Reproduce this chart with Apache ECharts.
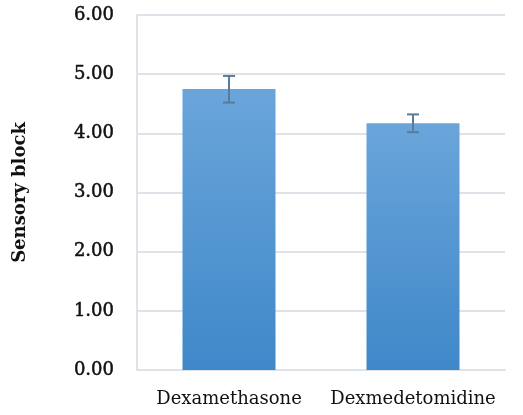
<!DOCTYPE html>
<html><head><meta charset="utf-8">
<script src="https://cdn.jsdelivr.net/npm/echarts@6/dist/echarts.min.js"></script>
<style>html,body{margin:0;padding:0;background:#fff}#c{width:523px;height:415px}</style>
</head><body><div id="c"></div>
<script>
var categories = ['Dexamethasone', 'Dexmedetomidine'];
var values = [4.75, 4.17];
var errLow = [4.52, 4.02];
var errHigh = [4.97, 4.32];
var yTicks = [0, 1, 2, 3, 4, 5, 6];

var chart = echarts.init(document.getElementById('c'));
chart.setOption({
  animation: false,
  grid: {left: 137, right: 18, top: 15, bottom: 45},
  xAxis: {
    type: 'category', data: categories,
    axisLine: {lineStyle: {color: '#dde3e9', width: 2}},
    axisTick: {show: false},
    axisLabel: {interval: 0, color: '#111', fontFamily: 'DejaVu Serif', fontSize: 18, margin: 20}
  },
  yAxis: {
    type: 'value', min: 0, max: 6, interval: 1,
    name: 'Sensory block', nameLocation: 'middle', nameGap: 108,
    nameTextStyle: {fontFamily: 'DejaVu Serif', fontWeight: 'bold', fontSize: 18, color: '#111'},
    axisLine: {show: true, lineStyle: {color: '#dde3e9', width: 2}},
    splitLine: {lineStyle: {color: '#dde3e9', width: 2}},
    axisLabel: {color: '#111', fontFamily: 'DejaVu Serif', fontSize: 18, margin: 23,
      textBorderColor: '#111', textBorderWidth: 0.5,
      formatter: function (v) { return v.toFixed(2); }}
  },
  series: [{
    type: 'bar', data: values, barWidth: 93,
    itemStyle: {color: new echarts.graphic.LinearGradient(0, 0, 0, 1, [
      {offset: 0, color: '#6aa5da'}, {offset: 1, color: '#3f88c9'}])}
  }, {
    type: 'custom',
    data: categories.map(function (c, i) { return [i, errLow[i], errHigh[i]]; }),
    renderItem: function (params, api) {
      var lo = api.coord([api.value(0), api.value(1)]);
      var hi = api.coord([api.value(0), api.value(2)]);
      var w = 6;
      var st = {stroke: '#5b7b9b', lineWidth: 2};
      return {type: 'group', children: [
        {type: 'line', shape: {x1: hi[0], y1: hi[1], x2: lo[0], y2: lo[1]}, style: st},
        {type: 'line', shape: {x1: hi[0] - w, y1: hi[1], x2: hi[0] + w, y2: hi[1]}, style: st},
        {type: 'line', shape: {x1: lo[0] - w, y1: lo[1], x2: lo[0] + w, y2: lo[1]}, style: st}
      ]};
    },
    z: 10
  }]
});
</script></body></html>
